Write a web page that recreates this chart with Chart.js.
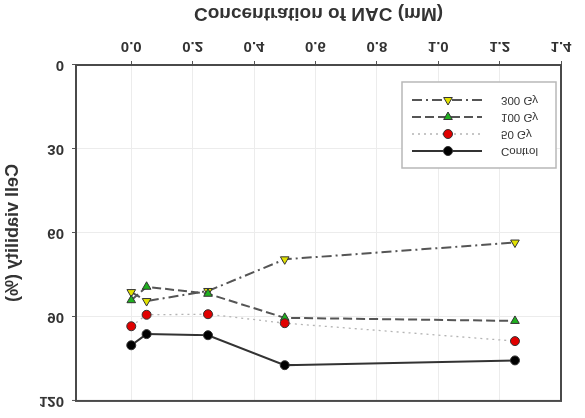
<!DOCTYPE html>
<html>
<head>
<meta charset="utf-8">
<script src="https://cdn.jsdelivr.net/npm/chart.js@4/dist/chart.umd.min.js"></script>
<style>
  html, body { margin: 0; padding: 0; background: #fff; }
  #wrap { width: 585px; height: 418px; transform: scaleY(-1); transform-origin: center center; }
  canvas { display: block; }
</style>
</head>
<body>
<div id="wrap"><canvas id="c" width="585" height="418"></canvas></div>
<script>
// ---- data ----
const concentrations = [0, 0.05, 0.25, 0.5, 1.25];
const controlValues  = [100.1, 96.1, 96.5, 107.2, 105.5];
const gy50Values     = [93.3, 89.2, 89.0, 92.2, 98.6];
const gy100Values    = [84.0, 79.2, 81.7, 90.3, 91.4];
const gy300Values    = [81.1, 84.3, 80.7, 69.4, 63.4];
const seriesNames    = ['Control', '50 Gy', '100 Gy', '300 Gy'];
const xTickValues    = [0, 0.2, 0.4, 0.6, 0.8, 1.0, 1.2, 1.4];
const yTickValues    = [0, 30, 60, 90, 120];
const xTitle = 'Concentration of NAC (mM)';
const yTitle = 'Cell viability (%)';

const toPts = vals => concentrations.map((x, i) => ({ x: x, y: vals[i] }));

const styles = [
  { line: '#333333', width: 2,   dash: [],            fill: '#000000', pstyle: 'circle',   rot: 0,   r: 4.5 },
  { line: '#b4b4b4', width: 1.3, dash: [2, 4],        fill: '#e00000', pstyle: 'circle',   rot: 0,   r: 4.5 },
  { line: '#555555', width: 2,   dash: [9, 4],        fill: '#1fb01f', pstyle: 'triangle', rot: 180, r: 5 },
  { line: '#555555', width: 2,   dash: [10, 4, 2, 4], fill: '#e2e200', pstyle: 'triangle', rot: 0,   r: 5 }
];
const allValues = [controlValues, gy50Values, gy100Values, gy300Values];

const datasets = allValues.map((vals, i) => ({
  label: seriesNames[i],
  data: toPts(vals),
  borderColor: styles[i].line,
  borderWidth: styles[i].width,
  borderDash: styles[i].dash,
  pointStyle: styles[i].pstyle,
  pointRotation: styles[i].rot,
  pointRadius: styles[i].r,
  pointBackgroundColor: styles[i].fill,
  pointBorderColor: '#333333',
  pointBorderWidth: 1,
  tension: 0,
  fill: false
}));

const framePlugin = {
  id: 'frame',
  afterDatasetsDraw(chart) {
    const { ctx, chartArea: a } = chart;
    ctx.save();
    ctx.strokeStyle = '#4a4a4a';
    ctx.lineWidth = 2;
    ctx.strokeRect(a.left, a.top, a.right - a.left, a.bottom - a.top);
    ctx.restore();
  }
};

const legendPlugin = {
  id: 'boxLegend',
  afterDraw(chart) {
    const { ctx } = chart;
    const bx = 402, by = 250, bw = 154, bh = 86;
    ctx.save();
    ctx.fillStyle = '#ffffff';
    ctx.fillRect(bx, by, bw, bh);
    ctx.strokeStyle = '#b8b8b8';
    ctx.lineWidth = 1.5;
    ctx.strokeRect(bx, by, bw, bh);
    const rows = [267, 284, 301, 318];
    chart.data.datasets.forEach((ds, i) => {
      const y = rows[i];
      ctx.save();
      ctx.strokeStyle = ds.borderColor;
      ctx.lineWidth = ds.borderWidth;
      ctx.setLineDash(ds.borderDash);
      ctx.beginPath();
      ctx.moveTo(412, y);
      ctx.lineTo(482, y);
      ctx.stroke();
      ctx.restore();
      ctx.save();
      ctx.fillStyle = ds.pointBackgroundColor;
      ctx.strokeStyle = ds.pointBorderColor;
      ctx.lineWidth = 1;
      Chart.helpers.drawPoint(ctx, { pointStyle: ds.pointStyle, rotation: ds.pointRotation, radius: ds.pointRadius, borderWidth: 1 }, 448, y);
      ctx.restore();
      ctx.save();
      ctx.fillStyle = '#333333';
      ctx.font = '11.5px "Liberation Sans", Arial, sans-serif';
      ctx.textBaseline = 'middle';
      ctx.textAlign = 'left';
      ctx.fillText(ds.label, 501, y);
      ctx.restore();
    });
    ctx.restore();
  }
};

new Chart(document.getElementById('c'), {
  type: 'line',
  data: { datasets: datasets },
  plugins: [framePlugin, legendPlugin],
  options: {
    responsive: false,
    devicePixelRatio: 1,
    animation: false,
    layout: { padding: { top: 3, right: 24, bottom: 0, left: 0 } },
    plugins: { legend: { display: false }, tooltip: { enabled: false } },
    scales: {
      x: {
        type: 'linear',
        min: -0.18,
        max: 1.4,
        afterBuildTicks: s => { s.ticks = xTickValues.map(v => ({ value: v })); },
        afterFit: s => { s.height = 65; },
        ticks: {
          callback: v => Number(v).toFixed(1),
          color: '#333333',
          font: { family: '"Liberation Sans", Arial, sans-serif', size: 15, weight: 'bold' },
          padding: 6,
          maxRotation: 0,
          autoSkip: false
        },
        grid: { color: '#ececec', lineWidth: 1, tickColor: '#555555', tickLength: 4, drawTicks: true },
        border: { display: true, color: '#4a4a4a', width: 2 },
        title: {
          display: true,
          text: xTitle,
          color: '#333333',
          font: { family: '"Liberation Sans", Arial, sans-serif', size: 19, weight: 'bold' },
          padding: { top: 0, bottom: 2 }
        }
      },
      y: {
        type: 'linear',
        min: 0,
        max: 120,
        afterBuildTicks: s => { s.ticks = yTickValues.map(v => ({ value: v })); },
        afterFit: s => { s.width = 76; },
        ticks: {
          color: '#333333',
          font: { family: '"Liberation Sans", Arial, sans-serif', size: 15, weight: 'bold' },
          padding: 8
        },
        grid: { color: '#ececec', lineWidth: 1, tickColor: '#555555', tickLength: 4, drawTicks: true },
        border: { display: true, color: '#4a4a4a', width: 2 },
        title: {
          display: true,
          text: yTitle,
          color: '#333333',
          font: { family: '"Liberation Sans", Arial, sans-serif', size: 18, weight: 'bold' },
          padding: { top: 2, bottom: 0 }
        }
      }
    }
  }
});
</script>
</body>
</html>
